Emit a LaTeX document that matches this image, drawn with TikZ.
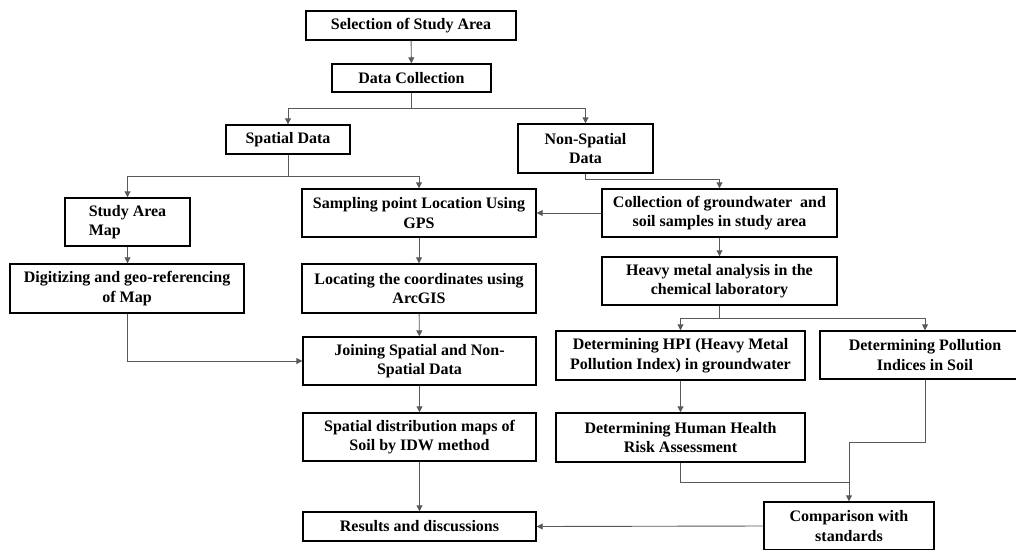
\documentclass[tikz,border=0pt]{standalone}
\usepackage{fontspec}
\setmainfont{Liberation Serif}
\usetikzlibrary{arrows.meta}
\tikzset{
  box/.style={draw=black, line width=1.4pt, fill=white, align=center, inner sep=0pt,
    font=\fontsize{16}{19.5}\selectfont\bfseries},
  conn/.style={draw=black!65, line width=0.9pt},
  arr/.style={conn, -{Triangle[length=6pt,width=6pt]}}
}
\begin{document}
\begin{tikzpicture}[x=1pt,y=-1pt]
\useasboundingbox (0,0) rectangle (1016,549);
\clip (0,0) rectangle (1016,549);
% nodes
\node[box, minimum width=210pt, minimum height=29pt] (sel) at (411,25.5) {Selection of Study Area};
\node[box, minimum width=159pt, minimum height=28pt] (dc) at (411.5,78) {Data Collection};
\node[box, minimum width=124pt, minimum height=29pt] (sp) at (288,139.5) {Spatial Data};
\node[box, minimum width=135pt, minimum height=49pt] (nsp) at (585.5,148.5) {Non-Spatial\\Data};
\node[box, align=left, minimum width=125pt, minimum height=48pt] (sam) at (127.5,222) {Study Area\\Map};
\node[box, minimum width=234pt, minimum height=48pt] (gps) at (419,213) {Sampling point Location Using\\GPS};
\node[box, minimum width=235pt, minimum height=48pt] (col) at (719.5,213) {Collection of groundwater\ \ and\\soil samples in study area};
\node[box, minimum width=234pt, minimum height=49pt] (dig) at (127,288.5) {Digitizing and geo-referencing\\of Map};
\node[box, minimum width=234pt, minimum height=49pt] (loc) at (419,288.5) {Locating the coordinates using\\ArcGIS};
\node[box, minimum width=235pt, minimum height=48pt] (hma) at (719.5,281) {Heavy metal analysis in the\\chemical laboratory};
\node[box, minimum width=233pt, minimum height=48pt] (join) at (419.5,361) {Joining Spatial and Non-\\Spatial Data};
\node[box, minimum width=249pt, minimum height=49pt] (hpi) at (680.5,355.5) {Determining HPI (Heavy Metal\\Pollution Index) in groundwater};
\node[box, minimum width=210pt, minimum height=48pt] (pol) at (925,355) {Determining Pollution\\Indices in Soil};
\node[box, minimum width=233pt, minimum height=48pt] (sdm) at (419.5,437) {Spatial distribution maps of\\Soil by IDW method};
\node[box, minimum width=249pt, minimum height=49pt] (hhr) at (680.5,437.5) {Determining Human Health\\Risk Assessment};
\node[box, minimum width=233pt, minimum height=29pt] (res) at (419.5,526.5) {Results and discussions};
\node[box, minimum width=170pt, minimum height=48pt] (cmp) at (849,526) {Comparison with\\standards};
% junction coordinates
\coordinate (j1) at (411.5,108);
\coordinate (j2) at (288,176);
\coordinate (j3) at (719.5,318);
\coordinate (j4) at (849,482);
\coordinate (j5) at (585.5,179);
\coordinate (j6) at (849,442);
% connectors
\draw[arr] (sel) -- (dc);
\draw[arr] (dc.south) -- (j1) -| (sp.north);
\draw[arr] (j1) -| (nsp.north);
\draw[arr] (sp.south) -- (j2) -| (sam.north);
\draw[arr] (j2) -| (gps.north);
\draw[arr] (nsp.south) -- (j5) -| (col.north);
\draw[arr] (col.west) -- (gps.east);
\draw[arr] (col) -- (hma);
\draw[arr] (sam.south) -- (sam.south |- dig.north);
\draw[arr] (gps) -- (loc);
\draw[arr] (dig.south) |- (join.west);
\draw[arr] (loc) -- (join);
\draw[arr] (join) -- (sdm);
\draw[arr] (sdm) -- (res);
\draw[arr] (hma.south) -- (j3) -| (hpi.north);
\draw[arr] (j3) -| (pol.north);
\draw[arr] (hpi) -- (hhr);
\draw[conn] (hhr.south) |- (j4);
\draw[arr] (pol.south) |- (j6) -- (cmp.north);
\draw[arr] (cmp.west) -- (res.east);
\end{tikzpicture}
\end{document}
